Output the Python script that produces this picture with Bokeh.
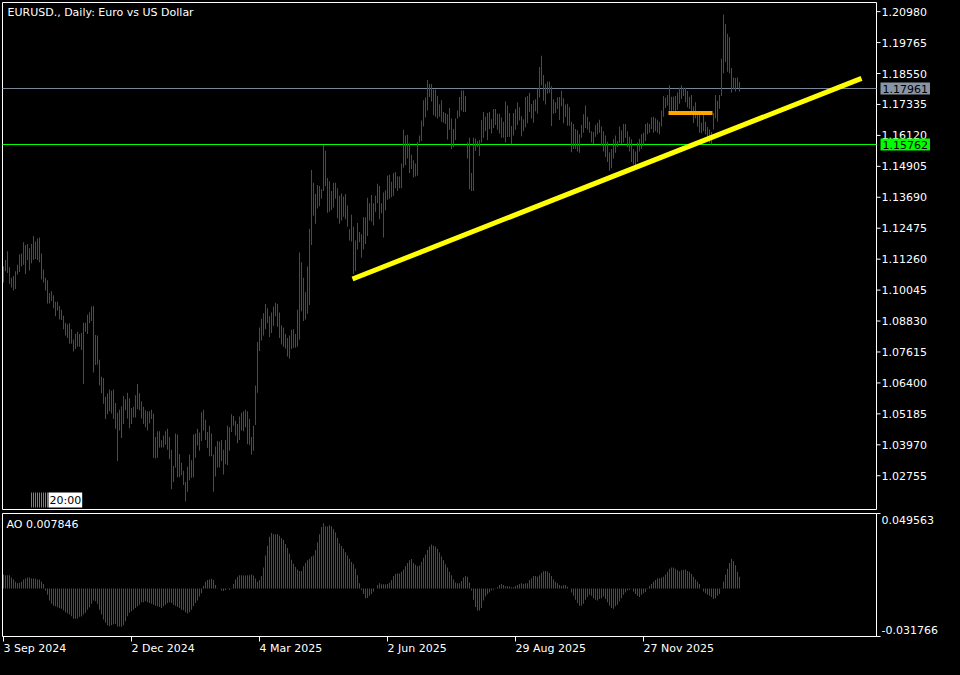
from bokeh.plotting import figure
from bokeh.models import Range1d, Label, ColumnDataSource, BoxAnnotation
from bokeh.core.properties import value
from bokeh.embed import file_html
from bokeh.resources import INLINE
from jinja2 import Template

# ---------------- data ----------------
title_text = "EURUSD., Daily:  Euro vs US Dollar"

high = [
    1.1098,1.1123,1.1157,1.1094,1.1053,1.1060,1.1079,1.1104,1.1144,1.1148,
    1.1192,1.1182,1.1186,1.1169,1.1186,1.1217,1.1195,1.1207,1.1211,1.1148,
    1.1085,1.1053,1.1043,1.0993,1.1000,1.0984,1.0959,1.0959,1.0942,1.0927,
    1.0904,1.0876,1.0870,1.0874,1.0851,1.0811,1.0832,1.0841,1.0832,1.0836,
    1.0876,1.0876,1.0908,1.0917,1.0940,1.0942,1.0828,1.0826,1.0731,1.0664,
    1.0659,1.0586,1.0599,1.0614,1.0609,1.0614,1.0561,1.0523,1.0535,1.0548,
    1.0589,1.0576,1.0601,1.0580,1.0542,1.0546,1.0592,1.0636,1.0599,1.0567,
    1.0546,1.0533,1.0529,1.0529,1.0535,1.0519,1.0428,1.0450,1.0450,1.0415,
    1.0434,1.0450,1.0460,1.0428,1.0378,1.0314,1.0441,1.0437,1.0361,1.0327,
    1.0295,1.0251,1.0311,
    1.0359,1.0336,1.0437,1.0441,1.0460,1.0445,1.0525,
    1.0535,1.0495,1.0447,1.0472,1.0441,1.0359,1.0390,1.0412,1.0409,1.0416,
    1.0378,1.0416,1.0472,1.0466,1.0517,1.0510,1.0491,1.0479,1.0508,1.0523,
    1.0529,1.0535,1.0529,1.0498,1.0428,1.0472,1.0630,1.0801,1.0858,1.0892,
    1.0914,1.0950,1.0933,1.0902,1.0917,1.0940,1.0955,1.0950,1.0917,1.0866,
    1.0858,1.0832,1.0816,1.0826,1.0849,1.0851,1.0832,1.0927,1.1152,1.1114,
    1.1053,1.0996,1.1097,1.1245,1.1476,1.1426,1.1382,1.1417,1.1413,1.1401,
    1.1574,1.1552,1.1445,1.1432,1.1394,1.1426,1.1426,1.1404,1.1375,1.1384,
    1.1372,1.1382,1.1337,1.1243,1.1300,1.1253,1.1199,1.1268,1.1233,1.1224,
    1.1291,1.1291,1.1367,1.1346,1.1378,
    1.1346,1.1375,1.1422,1.1413,1.1346,
    1.1388,1.1397,1.1455,1.1457,1.1430,1.1464,1.1468,1.1451,1.1451,1.1502,
    1.1634,1.1612,1.1615,1.1581,1.1536,1.1514,1.1502,1.1586,1.1612,1.1670,
    1.1750,1.1761,1.1830,1.1814,1.1814,1.1792,1.1792,1.1767,1.1733,1.1750,
    1.1704,1.1700,1.1695,1.1720,1.1678,1.1637,1.1678,1.1710,1.1763,1.1788,
    1.1788,1.1767,1.1584,1.1603,1.1464,1.1603,1.1599,1.1590,1.1594,1.1672,
    1.1704,1.1685,1.1700,1.1704,1.1675,1.1716,1.1716,1.1697,1.1697,1.1682,
    1.1666,1.1745,1.1729,1.1700,1.1649,1.1700,1.1716,1.1742,1.1723,1.1687,
    1.1675,1.1763,1.1767,1.1779,1.1735,1.1750,1.1754,1.1796,1.1881,1.1925,
    1.1849,1.1814,1.1824,1.1824,1.1805,1.1754,1.1742,1.1761,1.1763,
    1.1786,
    1.1758,1.1733,1.1736,1.1723,1.1666,1.1657,1.1637,1.1632,1.1616,1.1654,
    1.1695,1.1729,1.1685,1.1666,1.1628,1.1625,1.1654,1.1662,1.1673,1.1647,
    1.1628,1.1612,1.1587,1.1546,1.1559,1.1597,1.1612,1.1590,1.1647,1.1632,
    1.1657,1.1657,1.1628,1.1607,1.1597,1.1559,1.1549,1.1584,1.1599,1.1616,
    1.1622,1.1657,1.1662,1.1657,1.1683,1.1685,1.1679,1.1673,1.1666,1.1710,
    1.1767,1.1761,1.1771,1.1809,1.1764,1.1764,1.1767,1.1780,1.1799,1.1809,
    1.1799,1.1799,1.1786,1.1764,1.1771,1.1726,1.1742,1.1700,1.1698,1.1662,
    1.1704,1.1666,1.1645,1.1635,1.1625,1.1700,1.1771,1.1748,1.1771,1.1913,
    1.2087,1.2049,1.2011,1.1998,1.1877,1.1839,1.1837,1.1839,1.1822,
]

low = [
    1.1034,1.1079,1.1072,1.1028,1.1015,1.1003,1.1009,1.1066,1.1076,1.1098,
    1.1104,1.1068,1.1123,1.1081,1.1110,1.1123,1.1127,1.1123,1.1114,1.1047,
    1.1034,1.1003,1.0952,1.0952,1.0962,1.0933,1.0902,1.0924,1.0889,1.0887,
    1.0851,1.0826,1.0816,1.0794,1.0794,1.0763,1.0773,1.0782,1.0782,1.0769,
    1.0636,1.0841,1.0832,1.0874,1.0883,1.0681,1.0710,1.0712,1.0630,1.0599,
    1.0558,1.0498,1.0517,1.0529,1.0520,1.0498,1.0460,1.0333,1.0453,1.0424,
    1.0479,1.0533,1.0500,1.0462,1.0479,1.0504,1.0504,1.0538,1.0533,1.0500,
    1.0479,1.0466,1.0453,1.0482,1.0498,1.0346,1.0343,1.0346,1.0386,1.0386,
    1.0386,1.0397,1.0378,1.0340,1.0222,1.0251,1.0308,1.0270,1.0270,1.0277,
    1.0239,1.0175,1.0213,
    1.0258,1.0268,1.0270,1.0346,1.0394,1.0374,1.0412,
    1.0453,1.0416,1.0384,1.0352,1.0352,1.0213,1.0273,1.0308,1.0308,1.0333,
    1.0280,1.0321,1.0318,1.0374,1.0447,1.0472,1.0434,1.0403,1.0416,1.0453,
    1.0450,1.0466,1.0399,1.0397,1.0359,1.0374,1.0475,1.0601,1.0765,1.0807,
    1.0826,1.0851,1.0874,1.0820,1.0836,1.0864,1.0902,1.0861,1.0816,1.0791,
    1.0782,1.0775,1.0744,1.0735,1.0773,1.0778,1.0778,1.0782,1.0811,1.0921,
    1.0883,1.0889,1.0912,1.0946,1.1182,1.1296,1.1265,1.1325,1.1334,1.1363,
    1.1394,1.1413,1.1308,1.1312,1.1319,1.1329,1.1363,1.1287,1.1265,1.1278,
    1.1293,1.1283,1.1253,1.1199,1.1195,1.1068,1.1079,1.1164,1.1192,1.1132,
    1.1164,1.1186,1.1217,1.1278,1.1274,
    1.1258,1.1312,1.1346,1.1283,1.1306,
    1.1211,1.1318,1.1359,1.1363,1.1369,1.1375,1.1404,1.1394,1.1404,1.1404,
    1.1485,1.1495,1.1521,1.1464,1.1480,1.1447,1.1451,1.1455,1.1584,1.1590,
    1.1647,1.1682,1.1710,1.1763,1.1745,1.1691,1.1685,1.1678,1.1685,1.1666,
    1.1662,1.1657,1.1596,1.1634,1.1558,1.1565,1.1594,1.1678,1.1685,1.1710,
    1.1704,1.1704,1.1521,1.1401,1.1394,1.1394,1.1552,1.1565,1.1531,1.1584,
    1.1603,1.1628,1.1594,1.1637,1.1619,1.1641,1.1653,1.1634,1.1619,1.1603,
    1.1603,1.1584,1.1606,1.1606,1.1577,1.1612,1.1634,1.1653,1.1670,1.1609,
    1.1628,1.1644,1.1660,1.1704,1.1678,1.1662,1.1707,1.1697,1.1761,1.1809,
    1.1748,1.1733,1.1776,1.1779,1.1649,1.1697,1.1700,1.1716,1.1672,
    1.1726,
    1.1660,1.1685,1.1650,1.1650,1.1546,1.1559,1.1559,1.1549,1.1544,1.1603,
    1.1622,1.1641,1.1635,1.1622,1.1584,1.1578,1.1607,1.1616,1.1622,1.1572,
    1.1549,1.1527,1.1508,1.1473,1.1483,1.1521,1.1544,1.1565,1.1582,1.1578,
    1.1584,1.1603,1.1565,1.1549,1.1508,1.1498,1.1496,1.1508,1.1549,1.1559,
    1.1572,1.1590,1.1616,1.1622,1.1637,1.1622,1.1628,1.1622,1.1616,1.1647,
    1.1685,1.1721,1.1729,1.1710,1.1704,1.1710,1.1704,1.1713,1.1736,1.1755,
    1.1767,1.1742,1.1723,1.1717,1.1708,1.1660,1.1679,1.1647,1.1622,1.1620,
    1.1628,1.1616,1.1603,1.1582,1.1576,1.1635,1.1679,1.1666,1.1717,1.1767,
    1.1856,1.1900,1.1862,1.1856,1.1780,1.1793,1.1784,1.1799,1.1784,
]

# g = bullish bar, r = bearish bar
bar_dir = (
    "ggrrrrgggr" "gggrgrgrrr" "rrrggrrgrr" "rgrrrrgrrg" "ggrggrgrrr"
    "rrggrrrrgr" "grgrgggrrr" "rggggrggrr" "ggrrrggrrr" "rgg"
    "rrggrgg" "grrrrggrrr" "gggggrrrgg" "rrrrrgggrg" "ggrrgggrrr"
    "rrrgggrggr" "ggrgggrgrg" "grrgrgrgrg" "ggrrgrgrrr" "gggrg"
    "rggrr" "grgrggrggg" "grgrgrgggg" "gggrrgrgrg" "rrrrgggggg"
    "rrrrgggggg" "grgrgrrrgg" "rgrrrgggrg" "rggrrggggr" "rgggrrrgg"
    "g" "rrrrrrgrgg" "grrrgrgggr" "rrrrggggrr" "grrrrrrggg"
    "ggggggrgrg" "ggggrrgggr" "rrrrrgrgrr" "grrrrggrgg" "grrgrrgrr"
)

# Awesome Oscillator values per bar
ao = [
    0.0092,0.0088,0.0088,0.0088,0.0073,0.0060,0.0045,0.0034,0.0038,0.0045,
    0.0060,0.0066,0.0073,0.0073,0.0066,0.0066,0.0066,0.0060,0.0060,0.0045,
    0.0029,-0.0014,-0.0042,-0.0079,-0.0101,-0.0114,-0.0118,-0.0125,-0.0129,-0.0135,
    -0.0144,-0.0157,-0.0166,-0.0172,-0.0183,-0.0201,-0.0200,-0.0199,-0.0187,-0.0186,
    -0.0172,-0.0161,-0.0140,-0.0125,-0.0101,-0.0079,-0.0085,-0.0101,-0.0140,-0.0172,
    -0.0205,-0.0226,-0.0244,-0.0248,-0.0244,-0.0237,-0.0235,-0.0252,-0.0252,-0.0253,
    -0.0244,-0.0216,-0.0183,-0.0161,-0.0151,-0.0140,-0.0129,-0.0118,-0.0107,-0.0092,
    -0.0091,-0.0085,-0.0092,-0.0096,-0.0101,-0.0107,-0.0114,-0.0118,-0.0122,-0.0129,
    -0.0118,-0.0107,-0.0096,-0.0092,-0.0096,-0.0107,-0.0114,-0.0122,-0.0129,-0.0140,
    -0.0144,-0.0157,-0.0166,-0.0157,-0.0140,-0.0118,-0.0096,-0.0079,-0.0053,-0.0031,
    0.0016,0.0045,0.0056,0.0060,0.0064,0.0056,0.0023,0.0002,-0.0001,-0.0014,
    -0.0016,-0.0010,0.0001,-0.0009,0.0002,0.0029,0.0060,0.0077,0.0088,0.0088,
    0.0086,0.0086,0.0088,
    0.0088,0.0092,0.0086,0.0066,0.0045,0.0056,0.0082,0.0138,0.0218,0.0283,
    0.0342,0.0366,0.0359,0.0359,0.0359,0.0348,0.0333,0.0320,0.0294,0.0268,
    0.0229,0.0190,0.0164,0.0142,0.0125,0.0116,0.0115,0.0147,0.0168,0.0186,
    0.0197,0.0212,0.0218,0.0255,0.0305,0.0359,0.0407,0.0431,0.0411,0.0410,
    0.0418,0.0411,0.0392,0.0370,0.0333,0.0298,0.0281,0.0262,0.0240,0.0218,
    0.0197,0.0175,0.0160,0.0131,0.0088,0.0034,-0.0010,-0.0036,-0.0064,-0.0063,
    -0.0049,-0.0036,-0.0020,-0.0001,0.0023,0.0034,0.0027,0.0027,0.0026,0.0029,
    0.0038,0.0056,0.0082,0.0095,0.0099,0.0099,0.0110,0.0125,0.0147,0.0168,
    0.0186,0.0194,0.0168,0.0157,0.0147,0.0151,0.0175,0.0203,0.0225,0.0255,
    0.0277,0.0290,0.0283,0.0277,0.0262,0.0238,0.0212,0.0186,0.0160,0.0138,
    0.0110,0.0088,0.0060,0.0040,0.0034,0.0034,0.0049,0.0073,0.0082,0.0077,
    0.0040,-0.0014,-0.0075,-0.0122,-0.0146,-0.0146,-0.0129,-0.0079,-0.0053,-0.0038,
    -0.0027,-0.0014,-0.0007,
    0.0001,0.0008,0.0023,0.0029,0.0023,0.0014,0.0014,0.0013,0.0008,0.0008,
    0.0016,0.0023,0.0029,0.0034,0.0029,0.0034,0.0035,0.0056,0.0066,0.0082,
    0.0083,0.0077,0.0088,0.0103,0.0114,0.0115,0.0112,0.0103,0.0082,0.0060,
    0.0045,0.0034,0.0023,0.0016,0.0021,0.0023,0.0012,-0.0001,-0.0027,-0.0049,
    -0.0075,-0.0096,-0.0114,-0.0114,-0.0101,-0.0075,-0.0057,-0.0042,-0.0049,-0.0064,
    -0.0075,-0.0079,-0.0070,-0.0064,-0.0053,-0.0070,-0.0092,-0.0114,-0.0129,-0.0135,
    -0.0118,-0.0107,-0.0085,-0.0064,-0.0042,-0.0027,-0.0014,-0.0010,-0.0002,-0.0020,
    -0.0036,-0.0049,-0.0057,-0.0042,-0.0031,-0.0023,0.0003,0.0016,0.0029,0.0045,
    0.0056,0.0066,0.0067,0.0071,0.0077,0.0092,0.0110,0.0131,0.0138,0.0139,
    0.0131,0.0121,0.0114,0.0121,0.0122,0.0125,0.0116,0.0110,0.0095,0.0077,
    0.0060,0.0045,0.0029,0.0001,-0.0020,-0.0031,-0.0042,-0.0049,-0.0057,-0.0070,
    -0.0064,-0.0049,-0.0036,-0.0002,0.0045,0.0092,0.0131,0.0168,0.0197,0.0181,
    0.0153,0.0110,0.0078,
]
ao_label_value = "0.007846"

price_ticks = [1.20980, 1.19765, 1.18550, 1.17335, 1.16120, 1.14905, 1.13690,
               1.12475, 1.11260, 1.10045, 1.08830, 1.07615, 1.06400, 1.05185,
               1.03970, 1.02755]
price_tick_labels = ["1.20980", "1.19765", "1.18550", "1.17335", "1.16120",
                     "1.14905", "1.13690", "1.12475", "1.11260", "1.10045",
                     "1.08830", "1.07615", "1.06400", "1.05185", "1.03970",
                     "1.02755"]

ao_max, ao_min = 0.049563, -0.031766
ao_tick_labels = ["0.049563", "-0.031766"]

date_ticks = [0, 64, 128, 192, 256, 320]
date_labels = ["3 Sep 2024", "2 Dec 2024", "4 Mar 2025", "2 Jun 2025",
               "29 Aug 2025", "27 Nov 2025"]

bid_price, bid_label = 1.17961, "1.17961"
level_price, level_label = 1.15762, "1.15762"

trend_x = [174.5, 429.0]
trend_y = [1.1048, 1.1836]
zone_x = [332.5, 354.5]
zone_y = [1.1700, 1.1700]

# ---------------- layout / style ----------------
FONT = "DejaVu Sans"
FS = "11px"
GREEN = "#008000"
RED = "#ff0000"
W, H = 944, 659

BAR_PX = 2.0                  # pixels per daily bar
X0 = -1.5                     # bar coordinate at the left canvas edge
X_LEFT = -0.5                 # left border (bar units)
X_RIGHT = 436.5               # right border of both panels (bar units)

PX_PER_PRICE = 2546.6         # vertical scale of the price panel
PRICE_AT_TOP = 1.21417        # price at the top canvas edge
MAIN_TOP_Y, MAIN_BOT_Y = 2, 509
AO_TOP_Y, AO_BOT_Y = 513, 636

def price_at(y_px):
    return PRICE_AT_TOP - y_px / PX_PER_PRICE

PX_PER_AO = (AO_BOT_Y - AO_TOP_Y) / (ao_max - ao_min)
AO_AT_TOP = ao_max + AO_TOP_Y / PX_PER_AO

def ao_at(y_px):
    return AO_AT_TOP - y_px / PX_PER_AO

n = min(len(high), len(low), len(bar_dir), len(ao))
xs = list(range(n))
bar_fill = [GREEN if bar_dir[i] == "g" else RED for i in range(n)]
src = ColumnDataSource(dict(x=xs, high=high[:n], low=low[:n], bar_fill=bar_fill))

ao_vals = ao[:n]
ao_fill = [RED] + [GREEN if ao_vals[i] > ao_vals[i - 1] else RED for i in range(1, n)]
ao_src = ColumnDataSource(dict(x=xs, ao=ao_vals, ao_fill=ao_fill))

p = figure(width=W, height=H, title=None,
           x_range=Range1d(X0, X0 + W / BAR_PX),
           y_range=Range1d(price_at(H), price_at(0)),
           output_backend="svg", toolbar_location=None,
           x_axis_location=None, y_axis_location=None,
           background_fill_color="black", border_fill_color="black",
           min_border=0, outline_line_color=None)
p.extra_y_ranges = {"ao": Range1d(ao_at(H), ao_at(0))}
p.grid.visible = False

# ---- panel frames ----
p.quad(left=[X_LEFT], right=[X_RIGHT], bottom=[price_at(MAIN_BOT_Y)], top=[price_at(MAIN_TOP_Y)],
       fill_color=None, line_color="white", line_width=1)
p.quad(left=[X_LEFT], right=[X_RIGHT], bottom=[ao_min], top=[ao_max],
       fill_color=None, line_color="white", line_width=1, y_range_name="ao")

# ---- horizontal levels ----
p.line([X_LEFT, X_RIGHT], [bid_price, bid_price], line_color="#778899", line_width=1)
p.line([X_LEFT, X_RIGHT], [level_price, level_price], line_color="#00ff00", line_width=1)

# ---- candles (one-pixel bars from low to high) ----
p.vbar(x="x", width=1 / BAR_PX, bottom="low", top="high", fill_color="bar_fill",
       line_color=None, source=src)

# ---- drawn objects ----
p.line(trend_x, trend_y, line_color="#ffff00", line_width=5)
p.line(zone_x, zone_y, line_color="#ffa500", line_width=4)

# ---- price scale (right) ----
tick_len = 4 / BAR_PX
p.segment(x0=[X_RIGHT] * len(price_ticks), x1=[X_RIGHT + tick_len] * len(price_ticks),
          y0=price_ticks, y1=price_ticks, line_color="white", line_width=1)
p.text(x=[X_RIGHT + 5 / BAR_PX] * len(price_ticks), y=price_ticks, text=price_tick_labels,
       text_color="white", text_font=value(FONT), text_font_size=FS,
       text_baseline="middle", text_align="left")

p.add_layout(Label(x=X_RIGHT, y=bid_price, x_offset=4, text=bid_label,
                   text_color="black", text_font=FONT, text_font_size=FS,
                   text_baseline="middle", background_fill_color="#8795a5",
                   padding=2))
p.add_layout(Label(x=X_RIGHT, y=level_price, x_offset=4, text=level_label,
                   text_color="black", text_font=FONT, text_font_size=FS,
                   text_baseline="middle", background_fill_color="#00ff00",
                   padding=2))

# ---- title ----
p.add_layout(Label(x=X_LEFT, y=price_at(MAIN_TOP_Y), x_offset=5, y_offset=-3,
                   text=title_text, text_color="white", text_font=FONT,
                   text_font_size=FS, text_baseline="top"))

# ---- bar-countdown widget ----
p.add_layout(BoxAnnotation(left=13.5, right=22.5, bottom=price_at(MAIN_BOT_Y - 2),
                           top=price_at(MAIN_BOT_Y - 17),
                           fill_alpha=0, line_color=None,
                           hatch_pattern="|", hatch_color="white",
                           hatch_scale=2, hatch_weight=1))
p.add_layout(Label(x=22.5, y=price_at(MAIN_BOT_Y - 2), text="20:00",
                   text_color="black", text_font=FONT, text_font_size=FS,
                   text_baseline="bottom", background_fill_color="white",
                   padding=1))

# ---- AO histogram ----
p.vbar(x="x", width=1 / BAR_PX, bottom=0.0, top="ao", fill_color="ao_fill",
       line_color=None, source=ao_src, y_range_name="ao")
p.add_layout(Label(x=X_LEFT, y=ao_max, x_offset=4, y_offset=-4,
                   text="AO " + ao_label_value, text_color="white",
                   text_font=FONT, text_font_size=FS, text_baseline="top",
                   y_range_name="ao"))

p.segment(x0=[X_RIGHT, X_RIGHT], x1=[X_RIGHT + tick_len] * 2, y0=[ao_max, ao_min],
          y1=[ao_max, ao_min], line_color="white", line_width=1, y_range_name="ao")
p.text(x=[X_RIGHT + 5 / BAR_PX] * 2, y=[ao_at(AO_TOP_Y + 6), ao_at(AO_BOT_Y - 7)],
       text=ao_tick_labels, text_color="white", text_font=value(FONT), text_font_size=FS,
       text_baseline="middle", text_align="left", y_range_name="ao")

# ---- time scale (bottom) ----
p.segment(x0=date_ticks, x1=date_ticks, y0=[ao_min] * len(date_ticks),
          y1=[ao_at(AO_BOT_Y + 5)] * len(date_ticks), line_color="white", line_width=1,
          y_range_name="ao")
p.text(x=date_ticks, y=[ao_at(AO_BOT_Y + 12)] * len(date_ticks), text=date_labels,
       text_color="white", text_font=value(FONT), text_font_size=FS,
       text_baseline="middle", text_align="left", y_range_name="ao")

page = Template("""{% extends base %}
{% block postamble %}<style>html, body { background-color: #000000; }</style>{% endblock %}""")
open("out.html", "w").write(file_html(p, INLINE, template=page))
